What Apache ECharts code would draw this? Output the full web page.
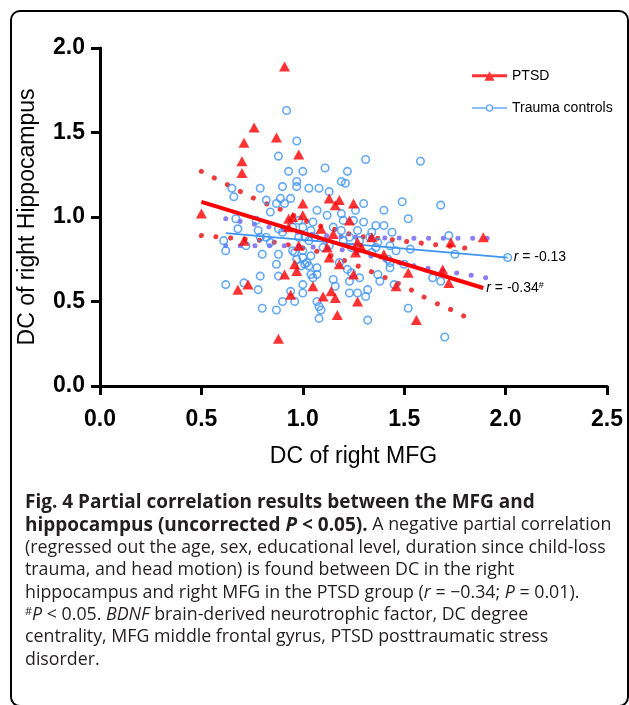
<!DOCTYPE html>
<html>
<head>
<meta charset="utf-8">
<title>Fig. 4 Partial correlation</title>
<script src="https://cdn.jsdelivr.net/npm/echarts@6/dist/echarts.min.js"></script>
<style>
  html, body { margin: 0; padding: 0; background: #fff; }
  #chart { width: 629px; height: 705px; }
</style>
</head>
<body>
<div id="chart"></div>
<script>
// axis ticks
const xTicks = [0, 0.5, 1.0, 1.5, 2.0, 2.5]
const yTicks = [0, 0.5, 1.0, 1.5, 2.0]

// PTSD group [DC of right MFG, DC of right Hippocampus]
const ptsd = [
  [0.50, 1.02], [0.91, 1.89], [0.76, 1.53], [0.87, 1.47], [0.71, 1.44], [0.70, 1.33],
  [0.70, 1.26], [0.98, 1.37], [1.00, 1.08], [0.93, 0.99], [0.93, 0.94], [1.00, 1.01],
  [0.71, 0.86], [0.98, 0.83], [0.96, 0.72], [0.97, 0.68], [0.91, 0.66], [0.73, 0.60],
  [0.68, 0.57], [0.94, 0.54], [0.88, 0.28], [1.05, 0.59], [1.13, 1.11], [1.18, 1.10],
  [1.16, 1.07], [1.25, 1.08], [1.23, 0.98], [1.09, 0.93], [1.15, 0.90], [1.12, 0.82],
  [1.13, 0.76], [1.27, 0.85], [1.29, 0.82], [1.34, 0.88], [1.26, 0.79], [1.40, 0.78],
  [1.18, 0.72], [1.25, 0.66], [1.10, 0.53], [1.14, 0.56], [1.16, 0.52], [1.27, 0.50],
  [1.17, 0.42], [1.46, 0.59], [1.52, 0.67], [1.56, 0.39], [1.69, 0.69], [1.72, 0.61],
  [1.73, 0.85], [1.89, 0.88], [0.95, 1.00]
]

// Trauma controls
const controls = [
  [0.92, 1.63], [0.97, 1.45], [0.88, 1.36], [0.93, 1.27], [1.00, 1.27], [0.97, 1.21],
  [0.97, 1.18], [0.90, 1.18], [0.79, 1.17], [0.65, 1.17], [0.66, 1.12], [0.82, 1.10],
  [0.94, 1.11], [0.87, 1.08], [0.91, 1.08], [1.03, 1.17], [1.08, 1.17], [1.31, 1.34],
  [1.11, 1.29], [1.22, 1.27], [1.58, 1.33], [1.19, 1.21], [1.21, 1.20], [1.13, 1.15],
  [1.30, 1.08], [1.49, 1.09], [1.68, 1.07], [1.40, 1.04], [1.52, 0.99], [1.26, 1.04],
  [1.07, 1.04], [1.12, 1.01], [1.19, 1.02], [1.20, 0.98], [1.25, 0.98], [1.30, 0.97],
  [1.36, 0.95], [1.40, 0.95], [1.44, 0.91], [1.72, 0.89], [0.95, 0.94], [1.00, 0.94],
  [1.04, 0.92], [0.98, 0.88], [1.01, 0.88], [1.03, 0.86], [1.06, 0.88], [1.15, 0.94],
  [1.19, 0.92], [1.27, 0.92], [1.23, 0.88], [1.28, 0.86], [1.33, 0.88], [1.37, 0.85],
  [1.36, 0.82], [1.43, 0.83], [1.46, 0.80], [0.95, 0.80], [0.97, 0.75], [1.00, 0.76],
  [1.01, 0.72], [1.03, 0.71], [1.07, 0.70], [1.04, 0.66], [1.07, 0.66], [1.22, 0.69],
  [1.28, 0.64], [1.37, 0.66], [1.43, 0.70], [1.15, 0.63], [1.16, 0.59], [1.23, 0.62],
  [1.00, 0.60], [1.00, 0.55], [0.96, 0.50], [1.07, 0.50], [1.08, 0.47], [1.09, 0.45],
  [1.08, 0.40], [1.27, 0.55], [1.32, 0.57], [1.31, 0.53], [1.32, 0.39], [0.89, 1.11],
  [0.84, 1.03], [0.67, 0.99], [0.68, 0.93], [0.77, 0.98], [0.78, 0.92], [0.61, 0.86],
  [0.62, 0.80], [0.72, 0.83], [0.79, 0.88], [0.82, 0.88], [0.84, 0.85], [0.88, 0.93],
  [0.90, 0.91], [0.80, 0.78], [0.88, 0.78], [0.87, 0.72], [0.96, 0.79], [0.79, 0.65],
  [0.88, 0.65], [0.71, 0.61], [0.62, 0.60], [0.78, 0.57], [0.90, 0.50], [0.80, 0.46],
  [0.87, 0.45], [0.94, 0.56], [1.34, 0.91], [1.42, 0.75], [1.43, 0.73], [1.34, 0.79],
  [1.24, 0.82], [1.53, 0.81], [1.75, 0.78], [2.01, 0.76], [1.64, 0.64], [1.68, 0.62],
  [1.38, 0.62], [1.23, 0.55], [1.52, 0.46], [1.70, 0.29], [1.05, 0.64], [0.99, 0.71],
  [1.00, 0.80], [1.04, 0.77], [1.02, 0.73], [1.24, 0.67], [1.18, 0.73], [1.13, 0.83],
  [1.10, 0.82], [1.20, 0.86], [1.50, 0.72], [1.45, 0.60], [0.98, 0.98], [1.05, 0.97]
]

// fitted lines and their confidence bands
const ptsdFit = [[0.50, 1.09], [1.89, 0.58]]
const controlFit = [[0.62, 0.905], [2.01, 0.76]]
const ptsdUpper = [[0.50, 1.27], [0.63, 1.19], [0.76, 1.11], [0.90, 1.04], [1.05, 0.96], [1.18, 0.92],
  [1.26, 0.89], [1.41, 0.87], [1.55, 0.85], [1.70, 0.83], [1.85, 0.81]]
const ptsdLower = [[0.50, 0.89], [0.65, 0.875], [0.80, 0.86], [0.95, 0.83], [1.09, 0.79], [1.23, 0.73],
  [1.37, 0.66], [1.50, 0.59], [1.64, 0.50], [1.77, 0.43], [1.84, 0.38]]
const controlUpper = [[0.62, 0.99], [0.84, 0.94], [1.06, 0.895], [1.30, 0.88], [1.50, 0.875], [1.96, 0.875]]
const controlLower = [[0.62, 0.83], [0.92, 0.83], [1.07, 0.82], [1.22, 0.80], [1.51, 0.72], [1.88, 0.645], [1.95, 0.63]]

const ptsdLabel = '{i|r} = -0.34{s|#}'
const controlLabel = '{i|r} = -0.13'

const RED = '#ff0000'
const BLUE = '#3d94f5'
const FONT = '"Liberation Sans", Arial, sans-serif'
const CAP_FONT = '"Open Sans", "Noto Sans", sans-serif'
const INK = '#231f20'

const captionLines = [
  '{b|Fig. 4 Partial correlation results between the MFG and}',
  '{b|hippocampus (uncorrected }{bi|P}{b| < 0.05).}{n| A negative partial correlation}',
  '{n|(regressed out the age, sex, educational level, duration since child-loss}',
  '{n|trauma, and head motion) is found between DC in the right}',
  '{n|hippocampus and right MFG in the PTSD group (}{i|r}{n| = −0.34; }{i|P}{n| = 0.01).}',
  '{sup|#}{i|P}{n| < 0.05. }{i|BDNF}{n| brain-derived neurotrophic factor, DC degree}',
  '{n|centrality, MFG middle frontal gyrus, PTSD posttraumatic stress}',
  '{n|disorder.}'
]

const ptsdIcon = 'path://M0,4 L35,4 L35,7 L0,7 Z M12.5,10.5 L17.5,1 L22.5,10.5 Z'
const controlIcon = 'path://M0,4.3 L13.7,4.3 L13.7,5.7 L0,5.7 Z M21.3,4.3 L35,4.3 L35,5.7 L21.3,5.7 Z ' +
  'M21.3,5 A3.8,3.8 0 1,1 13.7,5 A3.8,3.8 0 1,1 21.3,5 Z M19.9,5 A2.4,2.4 0 1,0 15.1,5 A2.4,2.4 0 1,0 19.9,5 Z'

const chart = echarts.init(document.getElementById('chart'))

function band(data, color) {
  return {
    type: 'line',
    data: data,
    smooth: 0.4,
    symbol: 'none',
    silent: true,
    z: 1,
    lineStyle: { color: color, width: 5, type: [0.1, 14.5], cap: 'round' }
  }
}

const caption = captionLines.map((line, i) => ({
  type: 'text',
  x: 25,
  y: 503 + i * 22.4,
  style: {
    text: line,
    verticalAlign: 'middle',
    fill: INK,
    font: '18px ' + CAP_FONT,
    rich: {
      b: { fontWeight: 'bold', fontSize: 19, fontFamily: CAP_FONT, color: INK },
      bi: { fontWeight: 'bold', fontStyle: 'italic', fontSize: 19, fontFamily: CAP_FONT, color: INK },
      n: { fontSize: 17.8, fontFamily: CAP_FONT, color: INK },
      i: { fontStyle: 'italic', fontSize: 17.8, fontFamily: CAP_FONT, color: INK },
      sup: { fontSize: 11, fontFamily: CAP_FONT, color: INK, verticalAlign: 'top', lineHeight: 18 }
    }
  }
}))

chart.setOption({
  animation: false,
  backgroundColor: '#fff',
  grid: { left: 100, right: 22, top: 48, bottom: 319 },
  legend: {
    orient: 'vertical',
    left: 467,
    top: 64,
    itemWidth: 35,
    itemHeight: 11,
    itemGap: 18,
    selectedMode: false,
    textStyle: { fontFamily: FONT, fontSize: 14, color: '#000' },
    data: [
      { name: 'PTSD', icon: ptsdIcon },
      { name: 'Trauma controls', icon: controlIcon, itemStyle: { color: BLUE, borderWidth: 0 } }
    ]
  },
  xAxis: {
    type: 'value',
    min: xTicks[0],
    max: xTicks[xTicks.length - 1],
    interval: xTicks[1] - xTicks[0],
    name: 'DC of right MFG',
    nameLocation: 'middle',
    nameGap: 59,
    nameTextStyle: { fontFamily: FONT, fontSize: 23, color: '#000' },
    axisLine: { lineStyle: { color: '#000', width: 3 } },
    axisTick: { length: 9, lineStyle: { color: '#000', width: 3 } },
    axisLabel: {
      margin: 22,
      fontFamily: FONT, fontSize: 23, fontWeight: 'bold', color: '#000',
      formatter: v => v.toFixed(1)
    },
    splitLine: { show: false }
  },
  yAxis: {
    type: 'value',
    min: yTicks[0],
    max: yTicks[yTicks.length - 1],
    interval: yTicks[1] - yTicks[0],
    name: 'DC of right Hippocampus',
    nameLocation: 'middle',
    nameGap: 61,
    nameTextStyle: { fontFamily: FONT, fontSize: 23, color: '#000' },
    axisLine: { lineStyle: { color: '#000', width: 3 } },
    axisTick: { length: 9, lineStyle: { color: '#000', width: 3 } },
    axisLabel: {
      margin: 15,
      fontFamily: FONT, fontSize: 23, fontWeight: 'bold', color: '#000',
      formatter: v => v.toFixed(1)
    },
    splitLine: { show: false }
  },
  series: [
    band(ptsdUpper, '#ef3b3b'),
    band(ptsdLower, '#ef3b3b'),
    band(controlUpper, '#8c7ef2'),
    band(controlLower, '#8c7ef2'),
    {
      name: 'Trauma controls',
      type: 'scatter',
      data: controls,
      symbol: 'circle',
      symbolSize: 7.5,
      z: 2,
      itemStyle: { color: 'rgba(0,0,0,0)', borderColor: BLUE, borderWidth: 1.6 }
    },
    {
      type: 'line',
      data: controlFit,
      symbol: 'none',
      z: 3,
      silent: true,
      lineStyle: { color: BLUE, width: 1.8 },
      endLabel: {
        show: true,
        distance: 6,
        formatter: controlLabel,
        fontFamily: FONT, fontSize: 14, color: '#000',
        rich: { i: { fontStyle: 'italic', fontFamily: FONT, fontSize: 14, color: '#000' } }
      }
    },
    {
      type: 'line',
      data: ptsdFit,
      symbol: 'none',
      z: 4,
      silent: true,
      lineStyle: { color: RED, width: 4 },
      endLabel: {
        show: true,
        distance: 3,
        formatter: ptsdLabel,
        fontFamily: FONT, fontSize: 14, color: '#000',
        rich: {
          i: { fontStyle: 'italic', fontFamily: FONT, fontSize: 14, color: '#000' },
          s: { fontFamily: FONT, fontSize: 9, color: '#000', verticalAlign: 'top', lineHeight: 14 }
        }
      }
    },
    {
      name: 'PTSD',
      type: 'scatter',
      data: ptsd,
      symbol: 'triangle',
      symbolSize: [11, 10],
      z: 5,
      itemStyle: { color: RED }
    }
  ],
  graphic: [
    {
      type: 'rect',
      shape: { x: 11, y: 11, width: 617, height: 695, r: 9 },
      style: { fill: 'none', stroke: '#000', lineWidth: 2 },
      silent: true
    }
  ].concat(caption)
})
</script>
</body>
</html>
